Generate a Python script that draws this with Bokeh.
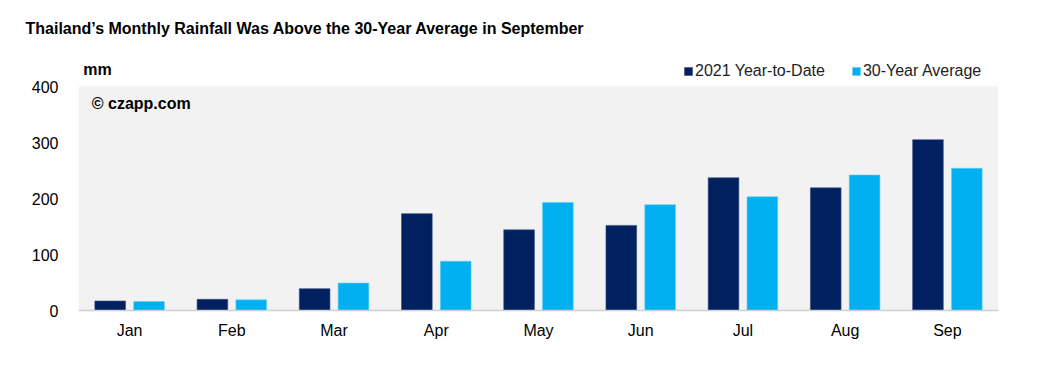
from bokeh.plotting import figure
from bokeh.models import ColumnDataSource, Label, Legend, LegendItem, FactorRange, BoxAnnotation, Range1d
from bokeh.transform import dodge
from bokeh.embed import file_html
from bokeh.resources import INLINE

months = ["Jan", "Feb", "Mar", "Apr", "May", "Jun", "Jul", "Aug", "Sep"]
ytd_2021 = [17, 20, 39, 173, 144, 152, 237, 219, 305]
avg_30yr = [16, 19, 49, 88, 193, 189, 203, 242, 254]
y_ticks = [0, 100, 200, 300, 400]
y_max = 400

FONT = "Liberation Sans"
DARK = "#002060"
LIGHT = "#00b0f0"

src = ColumnDataSource(dict(month=months, ytd=ytd_2021, avg=avg_30yr))

p = figure(x_range=FactorRange(*months, range_padding=0), y_range=Range1d(0, 478.6),
           width=1040, height=370, output_backend="svg", toolbar_location=None,
           min_border_left=78, min_border_right=42, min_border_top=42, min_border_bottom=60)
p.background_fill_color = "white"
p.border_fill_color = "white"
p.outline_line_color = None
p.add_layout(BoxAnnotation(bottom=0, top=y_max, fill_color="#f2f2f2", fill_alpha=1,
                           line_color=None, level="underlay"))

r1 = p.vbar(x=dodge("month", -0.19, range=p.x_range), top="ytd", width=0.30, source=src,
            fill_color=DARK, line_color="#3a4f80", line_width=0.6)
r2 = p.vbar(x=dodge("month", 0.19, range=p.x_range), top="avg", width=0.30, source=src,
            fill_color=LIGHT, line_color="#5fcdf5", line_width=0.6)

p.xgrid.grid_line_color = None
p.ygrid.grid_line_color = "white"
p.ygrid.grid_line_width = 1.5
p.ygrid.ticker = y_ticks
p.yaxis.ticker = y_ticks
p.yaxis.axis_line_color = None
p.yaxis.major_tick_line_color = None
p.yaxis.minor_tick_line_color = None
p.yaxis.major_label_text_font = FONT
p.yaxis.major_label_text_font_size = "16px"
p.yaxis.major_label_text_color = "#000000"
p.yaxis.major_label_standoff = 14

p.xaxis.axis_line_color = "#d0d0d0"
p.xaxis.axis_line_width = 1.5
p.xaxis.major_tick_line_color = None
p.xaxis.minor_tick_line_color = None
p.xaxis.major_label_text_font = FONT
p.xaxis.major_label_text_font_size = "16px"
p.xaxis.major_label_text_color = "#000000"
p.xaxis.major_label_standoff = 5

p.title.text = "Thailand\u2019s Monthly Rainfall Was Above the 30-Year Average in September"
p.title.text_font = FONT
p.title.text_font_size = "16px"
p.title.text_font_style = "bold"
p.title.text_color = "#000000"
p.title.align = "left"
p.title.offset = -53
p.title.standoff = 11

p.add_layout(Label(x=0.046, y=430, text="mm", text_font=FONT, text_font_size="16px",
                   text_font_style="bold", text_baseline="middle", text_color="#000000"))
p.add_layout(Label(x=0.13, y=370, text="\u00a9 czapp.com", text_font=FONT, text_font_size="16px",
                   text_font_style="bold", text_baseline="middle", text_color="#000000"))

legend = Legend(items=[LegendItem(label="2021 Year-to-Date", renderers=[r1]),
                       LegendItem(label="30-Year Average", renderers=[r2])],
                orientation="horizontal", location=(605, 230),
                background_fill_alpha=0, border_line_color=None,
                label_text_font=FONT, label_text_font_size="16px", label_text_color="#222222",
                glyph_width=10, glyph_height=10, label_standoff=2, spacing=26,
                padding=0, margin=0, label_height=18)
p.add_layout(legend, "center")

open("out.html", "w").write(file_html(p, INLINE))
